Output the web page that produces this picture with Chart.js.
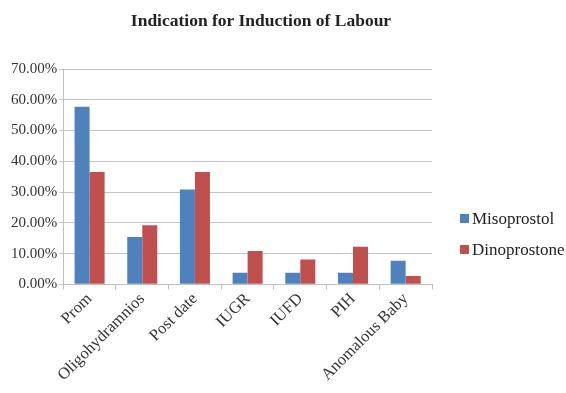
<!DOCTYPE html>
<html>
<head>
<meta charset="utf-8">
<script src="https://cdn.jsdelivr.net/npm/chart.js@4"></script>
<style>
  body { margin: 0; background: #fff; }
  #wrap { position: relative; width: 566px; height: 393px; overflow: hidden; }
  #titulo {
    position: absolute; left: 0; width: 522px; top: 10px;
    text-align: center; font: bold 17.5px "Liberation Serif", serif; color: #222;
  }
  #leyenda {
    position: absolute; left: 460px; top: 203px;
    font: 17px "Liberation Serif", serif; color: #222;
  }
  #leyenda div { height: 31px; display: flex; align-items: center; }
  #leyenda span.cuadro { display: inline-block; width: 9px; height: 9px; margin-right: 3px; }
</style>
</head>
<body>
<div id="wrap">
  <div id="titulo">Indication for Induction of Labour</div>
  <canvas id="grafico" width="566" height="393"></canvas>
  <div id="leyenda"></div>
</div>
<script>
const categorias = ["Prom", "Oligohydramnios", "Post date", "IUGR", "IUFD", "PIH", "Anomalous Baby"];
const misoprostol = [57.7, 15.4, 30.8, 3.8, 3.8, 3.8, 7.7];
const dinoprostone = [36.5, 19.2, 36.5, 10.8, 8.1, 12.2, 2.7];

const series = [
  { label: "Misoprostol", data: misoprostol, color: "#4F81BD" },
  { label: "Dinoprostone", data: dinoprostone, color: "#C0504D" },
];

// leyenda en HTML para ubicarla como en la figura
const leyenda = document.getElementById("leyenda");
series.forEach((s) => {
  const fila = document.createElement("div");
  fila.innerHTML = `<span class="cuadro" style="background:${s.color}"></span>${s.label}`;
  leyenda.appendChild(fila);
});

const fuente = { family: "'Liberation Serif', serif", size: 15 };

new Chart(document.getElementById("grafico").getContext("2d"), {
  type: "bar",
  data: {
    labels: categorias,
    datasets: series.map((s) => ({
      label: s.label,
      data: s.data,
      backgroundColor: s.color,
      barPercentage: 1,
      categoryPercentage: 0.57,
    })),
  },
  options: {
    responsive: false,
    animation: false,
    layout: { padding: { left: 9, top: 69, right: 134, bottom: 8 } },
    plugins: {
      legend: { display: false },
      title: { display: false },
      tooltip: { enabled: false },
    },
    scales: {
      x: {
        grid: {
          offset: true,
          drawOnChartArea: false,
          drawTicks: true,
          tickLength: 5,
          color: "#bfbfbf",
        },
        border: { color: "#bfbfbf" },
        ticks: {
          font: { family: "'Liberation Serif', serif", size: 16.5 },
          color: "#333",
          minRotation: 45,
          maxRotation: 45,
          autoSkip: false,
          padding: 0,
        },
      },
      y: {
        min: 0,
        max: 70,
        grid: { color: "#c4c4c4", tickLength: 4 },
        border: { color: "#bfbfbf" },
        ticks: {
          stepSize: 10,
          font: fuente,
          color: "#333",
          padding: 2,
          callback: (v) => v.toFixed(2) + "%",
        },
      },
    },
  },
});
</script>
</body>
</html>
